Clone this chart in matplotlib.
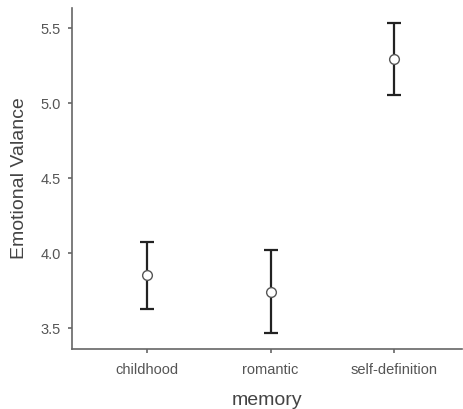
import matplotlib
matplotlib.use("Agg")
import matplotlib.pyplot as plt
import numpy as np

# Emotional valance by memory type (means with CI)
memory = ['childhood', 'romantic', 'self-definition']
means = [3.853, 3.74, 5.293]
lower = [3.627, 3.467, 5.053]
upper = [4.073, 4.02, 5.533]

plt.rcParams['font.family'] = ['Liberation Sans', 'DejaVu Sans']

fig = plt.figure(figsize=(4.64, 4.09), dpi=100)
ax = fig.add_axes([0.155, 0.1467, 0.841, 0.8333])

x = np.arange(len(memory))
m = np.array(means)
err = [m - np.array(lower), np.array(upper) - m]
ax.errorbar(x, m, yerr=err, fmt='none', ecolor='#222222', elinewidth=1.6,
            capsize=5, capthick=1.6, zorder=2)
ax.plot(x, m, 'o', markersize=7, markerfacecolor='white',
        markeredgecolor='#555555', markeredgewidth=1, zorder=3)

ax.set_xlim(-0.607, 2.55)
ax.set_ylim(3.36, 5.633)
ax.set_xticks(x)
ax.set_xticklabels(memory)
ax.set_yticks([3.5, 4.0, 4.5, 5.0, 5.5])
ax.set_yticklabels(['3.5', '4.0', '4.5', '5.0', '5.5'])

for s in ['top', 'right']:
    ax.spines[s].set_visible(False)
for s in ['left', 'bottom']:
    ax.spines[s].set_color('#666666')
    ax.spines[s].set_linewidth(1.2)
ax.tick_params(colors='#666666', labelcolor='#555555', labelsize=10.5,
               length=3, width=1.2)
ax.tick_params(axis='x', pad=7)
ax.tick_params(axis='y', pad=5)

ax.set_xlabel('memory', fontsize=14, color='#444444', labelpad=11)
ax.set_ylabel('Emotional Valance', fontsize=14, color='#444444', labelpad=9)

fig.savefig('out.png', dpi=100)
